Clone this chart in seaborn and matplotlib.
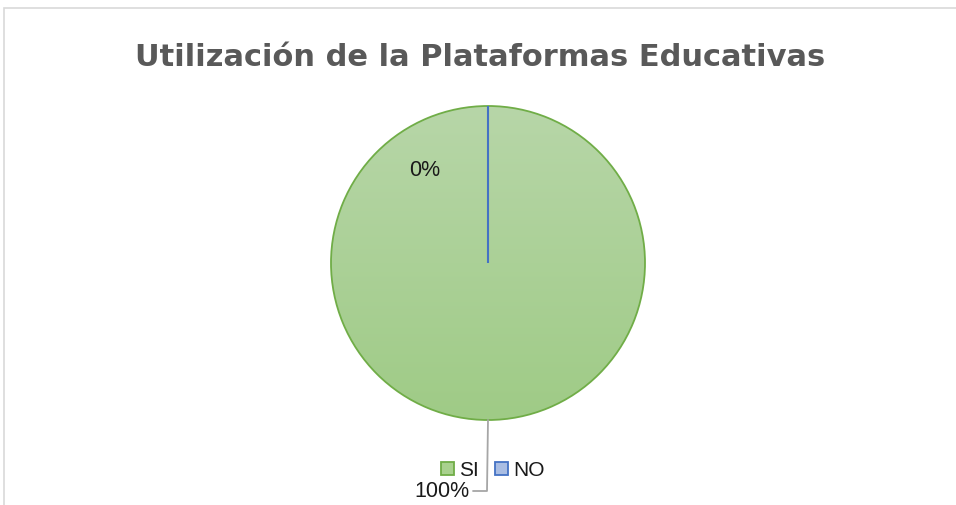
import matplotlib
matplotlib.use("Agg")
import matplotlib.pyplot as plt
import seaborn as sns
import numpy as np
from matplotlib.patches import Rectangle, Patch
from matplotlib.colors import LinearSegmentedColormap

sns.set_theme(style="white")
plt.rcParams['font.family'] = ['Liberation Sans', 'DejaVu Sans']

categories = ["SI", "NO"]
values = [100, 0]
title = "Utilización de la Plataformas Educativas"

W, H = 956, 506
fig = plt.figure(figsize=(W / 100, H / 100), dpi=100)
ax = fig.add_axes([0, 0, 1, 1])

# outer chart frame
fig.patches.append(Rectangle((4 / W, -0.1), 1.2, 1.1 - 9 / H, transform=fig.transFigure,
                             fill=False, edgecolor='#d9d9d9', linewidth=1.2))

cx, cy, r = 488, H - 264, 157
green_edge = '#70ad47'
blue_edge = '#4472c4'
wedges, _ = ax.pie(values, startangle=90, counterclock=False, center=(cx, cy), radius=r,
                   colors=['none', '#a9bde3'],
                   wedgeprops=dict(linewidth=1.3), frame=True)
wedges[0].set_edgecolor(green_edge)
wedges[1].set_edgecolor(blue_edge)
wedges[1].set_linewidth(1.5)

# gradient fill for SI slice
cmap = LinearSegmentedColormap.from_list('g', ['#9fcb86', '#b7d6a8'])
grad = np.linspace(0, 1, 256).reshape(-1, 1)
im = ax.imshow(grad, cmap=cmap, extent=[cx - r, cx + r, cy - r, cy + r], origin='lower',
               aspect='auto', zorder=0.5)
im.set_clip_path(wedges[0])
ax.set_xlim(0, W)
ax.set_ylim(0, H)
ax.set_aspect('equal')
ax.axis('off')

total = sum(values)
pcts = [f"{v / total * 100:.0f}%" for v in values]

# SI label with leader line (bottom)
ax.plot([cx, cx - 1, cx - 15], [cy - r, H - 492, H - 492], color='#a6a6a6', lw=1.3)
ax.text(cx - 18, H - 492, pcts[0], ha='right', va='center', fontsize=15.5, color='#1a1a1a')
# NO label
ax.text(425, H - 170, pcts[1], ha='center', va='center', fontsize=15.5, color='#1a1a1a')

fig.text(480 / W, 1 - 57 / H, title, ha='center', va='center', fontsize=22,
         fontweight='bold', color='#595959', family='DejaVu Sans')

handles = [Patch(facecolor='#a9d18e', edgecolor=green_edge, lw=1.3),
           Patch(facecolor='#a9bde3', edgecolor=blue_edge, lw=1.3)]
leg = fig.legend(handles, categories, loc='center', bbox_to_anchor=(493 / W, 1 - 471 / H),
                 ncol=2, frameon=False, fontsize=15, handlelength=0.6, handleheight=0.6,
                 handletextpad=0.25, columnspacing=0.8)
for t in leg.get_texts():
    t.set_color('#1a1a1a')

fig.savefig('out.png', dpi=100)
